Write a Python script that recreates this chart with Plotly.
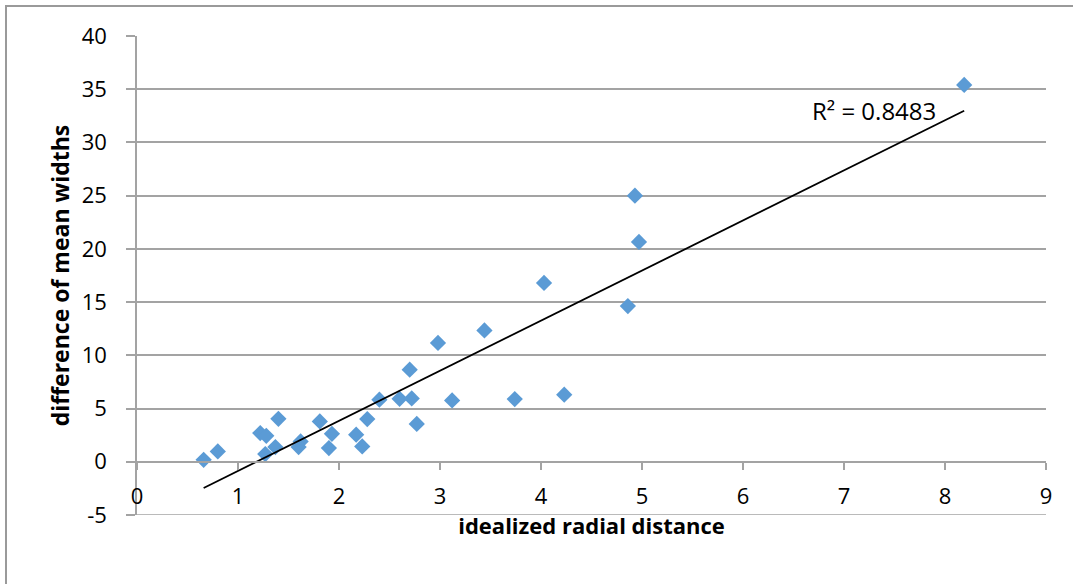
import numpy as np
import plotly.graph_objects as go

# idealized radial distance
x_vals = [0.66, 0.80, 1.22, 1.28, 1.27, 1.37, 1.40, 1.60, 1.62, 1.81,
          1.90, 1.93, 2.17, 2.23, 2.28, 2.40, 2.60, 2.70, 2.72, 2.77,
          2.98, 3.12, 3.44, 3.74, 4.03, 4.23, 4.86, 4.93, 4.97, 8.19]
# difference of mean widths
y_vals = [0.19, 0.97, 2.70, 2.44, 0.72, 1.38, 4.04, 1.38, 1.91, 3.79,
          1.29, 2.63, 2.54, 1.44, 4.01, 5.83, 5.92, 8.65, 5.95, 3.56,
          11.16, 5.76, 12.34, 5.89, 16.80, 6.30, 14.63, 25.0, 20.65, 35.4]

x_ticks = [0, 1, 2, 3, 4, 5, 6, 7, 8, 9]
y_ticks = [-5, 0, 5, 10, 15, 20, 25, 30, 35, 40]
r2_text = "R\u00b2 = 0.8483"

x = np.array(x_vals)
y = np.array(y_vals)
slope, intercept = np.polyfit(x, y, 1)
tx = np.array([x.min(), x.max()])
ty = slope * tx + intercept

GRID = "#A3A3A3"
FONT = "Open Sans, Liberation Sans, sans-serif"

fig = go.Figure()
fig.add_trace(go.Scatter(
    x=x_vals, y=y_vals, mode="markers",
    marker=dict(symbol="diamond", size=12.5, color="#5B9BD5", line=dict(width=0)),
    showlegend=False, hoverinfo="skip",
))
fig.add_trace(go.Scatter(
    x=tx, y=ty, mode="lines", line=dict(color="black", width=1.8),
    showlegend=False, hoverinfo="skip",
))

fig.add_annotation(x=7.3, y=33.0, xref="x", yref="y", text=r2_text,
                   showarrow=False, font=dict(family=FONT, size=24, color="black"))

# bottom gridline (at the lowest tick, on the plot edge)
fig.add_shape(type="line", xref="paper", yref="y", x0=0, x1=1,
              y0=y_ticks[0], y1=y_ticks[0], line=dict(color=GRID, width=1.5),
              layer="below")

# outer chart border
W, H = 1073, 584
ml, mr, mt, mb = 137, 27, 36, 69
pw, ph = W - ml - mr, H - mt - mb
def px2paper_x(p):
    return (p - ml) / pw
def px2paper_y(p):
    return (H - mb - p) / ph
fig.add_shape(type="rect", xref="paper", yref="paper",
              x0=px2paper_x(6), x1=px2paper_x(1090),
              y0=px2paper_y(600), y1=px2paper_y(6),
              line=dict(color="#9A9A9A", width=2), fillcolor="rgba(0,0,0,0)",
              layer="below")

fig.update_layout(
    width=W, height=H,
    margin=dict(l=ml, r=mr, t=mt, b=mb),
    paper_bgcolor="white", plot_bgcolor="white",
    font=dict(family=FONT, size=22, color="black"),
    xaxis=dict(
        range=[0, 9], tickvals=x_ticks, ticktext=[str(v) for v in x_ticks],
        anchor="free", position=5 / 45,
        showline=True, linecolor=GRID, linewidth=1.5,
        ticks="outside", ticklen=7, tickcolor=GRID, tickwidth=1.5,
        showgrid=False, zeroline=False,
        ticklabelstandoff=8, tickfont=dict(size=22),
        title=dict(text="<b>idealized radial distance</b>", standoff=7,
                   font=dict(family=FONT, size=22)),
    ),
    yaxis=dict(
        range=[-5, 40], tickvals=y_ticks, ticktext=[str(v) for v in y_ticks],
        showline=True, linecolor=GRID, linewidth=1.5,
        ticks="outside", ticklen=9, tickcolor=GRID, tickwidth=1.5,
        showgrid=True, gridcolor=GRID, gridwidth=1.5, zeroline=False,
        ticklabelstandoff=15, tickfont=dict(size=22),
        title=dict(text="<b>difference of mean widths</b>", standoff=6,
                   font=dict(family=FONT, size=23)),
    ),
)

fig.write_html("out.html")
